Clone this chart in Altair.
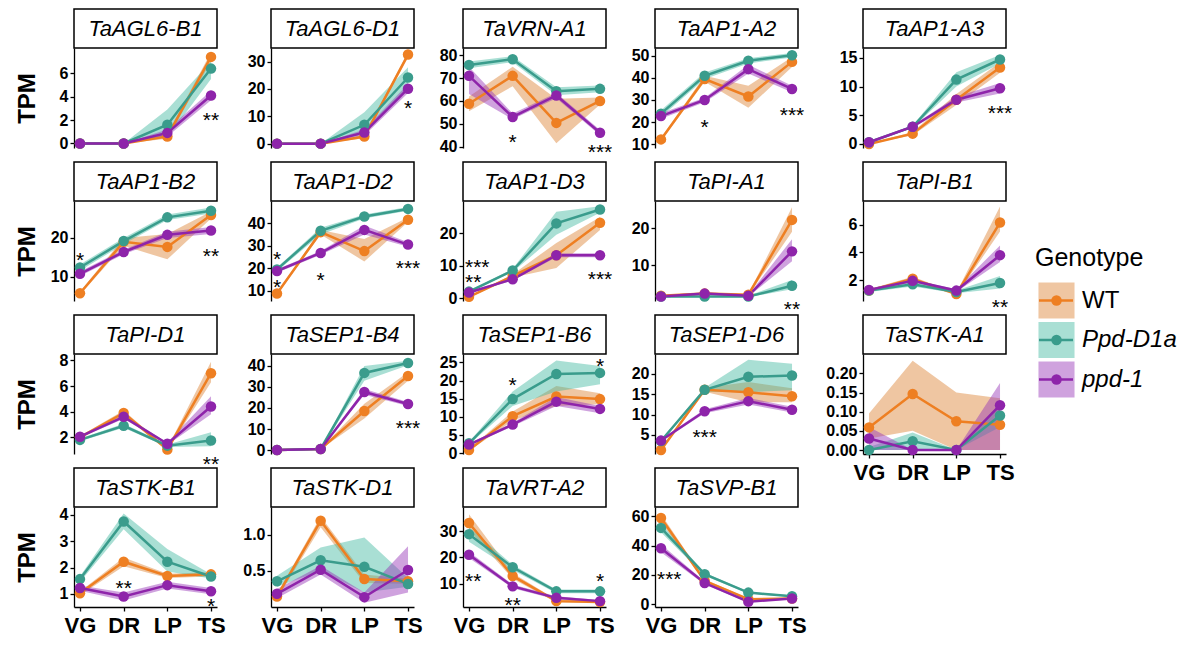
import json
import altair as alt
import pandas as pd

STAGES = ["VG", "DR", "LP", "TS"]
GENOTYPES = ["WT", "Ppd-D1a", "ppd-1"]
GENES = ["TaAGL6-B1", "TaAGL6-D1", "TaVRN-A1", "TaAP1-A2", "TaAP1-A3",
         "TaAP1-B2", "TaAP1-D2", "TaAP1-D3", "TaPI-A1", "TaPI-B1",
         "TaPI-D1", "TaSEP1-B4", "TaSEP1-B6", "TaSEP1-D6", "TaSTK-A1",
         "TaSTK-B1", "TaSTK-D1", "TaVRT-A2", "TaSVP-B1"]

# mean TPM, rows = genes (same order as GENES), columns = stages
WT_MEAN = [
    [0, 0, 0.6, 7.4], [0, 0, 2.6, 32.6], [58.8, 71.0, 50.4, 60.0],
    [12.1, 39.5, 31.6, 47.3], [0.0, 1.8, 7.7, 13.3], [5.8, 19.0, 17.7, 25.9],
    [8.8, 36.0, 27.6, 41.5], [0.4, 6.8, 13.2, 23.2], [1.7, 2.3, 2.0, 22.2],
    [1.25, 2.1, 1.0, 6.15], [2.0, 3.9, 1.05, 7.0], [0, 0.5, 18.6, 35.2],
    [0.9, 10.2, 15.6, 14.9], [1.3, 16.1, 15.5, 14.5], [0.059, 0.146, 0.075, 0.066],
    [1.02, 2.22, 1.68, 1.74], [0.146, 1.19, 0.386, 0.355], [33.2, 12.9, 3.25, 2.9],
    [58.7, 16.0, 3.5, 4.0]]
WT_LO = [
    [0, 0, 0.4, 7.0], [0, 0, 2.0, 31.5], [55.5, 66.5, 41.5, 58.5],
    [11.3, 38.3, 26.5, 45.0], [0, 1.5, 6.8, 12.4], [5.4, 18.0, 14.5, 25.0],
    [8.2, 35.0, 23.0, 40.5], [0.2, 6.3, 9.3, 21.0], [1.5, 2.0, 1.8, 19.0],
    [1.15, 1.95, 0.9, 5.5], [1.9, 3.7, 0.95, 6.3], [0, 0.4, 15.0, 33.0],
    [0.6, 9.0, 13.0, 13.5], [1.1, 15.6, 13.0, 13.0], [0.03, 0.05, 0.0, 0.0],
    [0.95, 2.05, 1.6, 1.66], [0.11, 1.1, 0.33, 0.32], [30.5, 11.8, 2.7, 2.4],
    [56.0, 15.0, 3.0, 3.5]]
WT_HI = [
    [0, 0, 0.8, 7.8], [0, 0, 3.2, 33.5], [62.0, 75.0, 61.0, 61.5],
    [12.9, 41.0, 36.5, 49.5], [0.1, 2.1, 8.7, 14.2], [6.2, 20.0, 21.0, 26.8],
    [9.4, 37.0, 33.0, 42.5], [0.6, 7.3, 17.0, 25.0], [1.9, 2.6, 2.2, 25.6],
    [1.35, 2.25, 1.1, 7.3], [2.1, 4.1, 1.15, 7.9], [0, 0.6, 22.0, 37.0],
    [1.2, 11.5, 18.5, 16.5], [1.5, 16.6, 18.0, 16.5], [0.095, 0.233, 0.15, 0.135],
    [1.09, 2.38, 1.76, 1.82], [0.18, 1.25, 0.45, 0.39], [36.5, 14.0, 3.8, 3.4],
    [61.5, 17.0, 4.0, 4.5]]
PPD_MEAN = [
    [0, 0, 1.6, 6.4], [0, 0, 6.9, 24.2], [75.8, 78.3, 64.3, 65.3],
    [23.8, 41.0, 47.8, 50.3], [0.3, 3.0, 11.2, 14.7], [12.4, 19.2, 25.3, 27.0],
    [19.5, 36.6, 42.9, 46.3], [2.0, 8.5, 23.0, 27.3], [1.5, 1.5, 1.5, 4.4],
    [1.25, 1.7, 1.15, 1.8], [1.8, 2.9, 1.35, 1.75], [0, 0.5, 36.7, 41.4],
    [2.75, 14.9, 21.8, 22.1], [3.5, 16.1, 19.3, 19.6], [0.0, 0.023, 0.0, 0.090],
    [1.56, 3.75, 2.22, 1.66], [0.355, 0.645, 0.555, 0.318], [28.9, 16.2, 7.0, 7.0],
    [52.0, 20.5, 8.0, 5.5]]
PPD_LO = [
    [0, 0, 0.5, 5.5], [0, 0, 3.5, 20.5], [74.3, 77.0, 62.5, 63.8],
    [22.3, 39.5, 46.6, 49.3], [0.2, 2.8, 10.0, 14.0], [11.6, 18.4, 24.6, 26.3],
    [18.7, 35.0, 42.0, 45.5], [1.7, 8.0, 19.5, 26.3], [1.3, 1.3, 1.3, 3.5],
    [1.15, 1.55, 1.05, 1.4], [1.7, 2.75, 1.25, 1.3], [0, 0.4, 33.0, 40.3],
    [2.4, 13.0, 17.0, 19.0], [3.2, 15.6, 15.5, 16.0], [0.0, 0.0, 0.0, 0.06],
    [1.45, 3.45, 1.85, 1.58], [0.28, 0.5, 0.2, 0.28], [26.0, 15.2, 6.3, 6.3],
    [49.0, 19.5, 7.3, 5.0]]
PPD_HI = [
    [0, 0, 2.9, 7.0], [0, 0, 11.5, 28.0], [77.3, 79.6, 66.0, 66.8],
    [25.3, 42.5, 49.0, 51.3], [0.4, 3.2, 12.5, 15.5], [13.2, 20.0, 26.0, 27.8],
    [20.3, 38.0, 43.8, 47.1], [2.3, 9.0, 26.6, 28.3], [1.7, 1.7, 1.7, 6.0],
    [1.35, 1.85, 1.25, 2.3], [1.9, 3.05, 1.45, 2.4], [0, 0.6, 40.0, 42.5],
    [3.1, 17.0, 25.5, 24.0], [3.8, 16.6, 23.5, 22.5], [0.008, 0.046, 0.0, 0.12],
    [1.67, 4.05, 2.7, 1.74], [0.43, 0.82, 0.96, 0.4], [31.5, 17.2, 7.7, 7.7],
    [55.0, 21.5, 8.7, 6.0]]
NULL_MEAN = [
    [0, 0, 0.9, 4.1], [0, 0, 4.1, 20.1], [71.0, 53.0, 62.4, 46.1],
    [22.7, 30.0, 44.0, 35.0], [0.3, 3.0, 7.7, 9.7], [10.8, 16.4, 20.8, 21.9],
    [18.8, 26.8, 37.0, 30.5], [1.7, 5.8, 13.2, 13.2], [1.5, 2.3, 1.7, 13.7],
    [1.3, 1.95, 1.25, 3.8], [2.05, 3.6, 1.5, 4.4], [0, 0.5, 27.6, 21.9],
    [2.4, 7.9, 14.2, 12.2], [3.6, 10.8, 13.3, 11.2], [0.030, 0.0, 0.0, 0.117],
    [1.22, 0.9, 1.33, 1.1], [0.182, 0.514, 0.136, 0.51], [21.0, 8.9, 4.5, 3.25],
    [38.2, 14.5, 1.8, 4.0]]
NULL_LO = [
    [0, 0, 0.6, 3.7], [0, 0, 3.0, 18.5], [63.0, 52.0, 61.2, 45.0],
    [21.5, 29.0, 42.0, 33.5], [0.2, 2.8, 7.2, 8.8], [10.2, 15.8, 20.0, 21.0],
    [18.0, 26.0, 35.0, 29.5], [1.4, 5.4, 12.6, 12.6], [1.3, 2.0, 1.5, 11.0],
    [1.2, 1.85, 1.15, 3.3], [1.95, 3.45, 1.4, 3.8], [0, 0.4, 26.3, 21.0],
    [2.1, 7.4, 13.0, 11.0], [3.3, 10.3, 12.5, 10.5], [0.0, 0.0, 0.0, 0.0],
    [1.12, 0.75, 1.2, 0.98], [0.12, 0.45, 0.06, 0.2], [19.8, 8.2, 3.9, 2.8],
    [35.5, 13.5, 1.3, 3.5]]
NULL_HI = [
    [0, 0, 1.2, 4.5], [0, 0, 5.2, 21.8], [75.0, 54.5, 63.5, 47.3],
    [24.0, 31.0, 46.0, 36.5], [0.4, 3.2, 8.2, 10.6], [11.4, 17.0, 21.6, 22.8],
    [19.6, 27.6, 39.0, 31.5], [2.0, 6.2, 13.8, 13.8], [1.7, 2.6, 1.9, 17.0],
    [1.4, 2.05, 1.35, 4.5], [2.15, 3.75, 1.6, 5.2], [0, 0.6, 29.0, 22.8],
    [2.7, 8.4, 15.5, 13.0], [3.9, 11.3, 14.1, 11.9], [0.06, 0.0, 0.0, 0.175],
    [1.32, 1.05, 1.46, 1.22], [0.25, 0.57, 0.2, 0.84], [22.2, 9.6, 5.1, 3.7],
    [40.9, 15.5, 2.3, 4.5]]

# y-axis extent and tick labels per panel
Y_DOMAIN = [
    [-0.39, 8.16], [-1.6, 35.0], [39.4, 83.2], [8.2, 53.6], [-0.7, 16.7],
    [3.8, 29.5], [5.5, 49.8], [-0.9, 29.9], [0.3, 27.3], [0.5, 7.7],
    [0.7, 8.5], [-1.9, 45.7], [-0.2, 27.3], [0.3, 24.9], [-0.0104, 0.2505],
    [0.5, 4.3], [0.0, 1.38], [1.0, 39.3], [-1.8, 66.2]]
Y_TICKS = [
    [0, 2, 4, 6], [0, 10, 20, 30], [40, 50, 60, 70, 80], [10, 20, 30, 40, 50], [0, 5, 10, 15],
    [10, 20], [10, 20, 30, 40], [0, 10, 20], [10, 20], [2, 4, 6],
    [2, 4, 6, 8], [0, 10, 20, 30, 40], [0, 5, 10, 15, 20, 25], [5, 10, 15, 20],
    [0, 0.05, 0.10, 0.15, 0.20],
    [1, 2, 3, 4], [0.5, 1.0], [10, 20, 30], [0, 20, 40, 60]]
Y_FORMAT = [".0f"] * 14 + [".2f"] + [".0f", ".1f", ".0f", ".0f"]

# significance marks: (gene, stage, TPM position, label)
SIG = [
    ("TaAGL6-B1", "TS", 2.4, "**"), ("TaAGL6-D1", "TS", 14.8, "*"),
    ("TaVRN-A1", "DR", 44.2, "*"), ("TaVRN-A1", "TS", 40.0, "***"),
    ("TaAP1-A2", "DR", 19.8, "*"), ("TaAP1-A2", "TS", 25.3, "***"),
    ("TaAP1-A3", "TS", 6.3, "***"),
    ("TaAP1-B2", "VG", 15.7, "*"), ("TaAP1-B2", "TS", 16.6, "**"),
    ("TaAP1-D2", "VG", 26.1, "*"), ("TaAP1-D2", "VG", 13.7, "*"),
    ("TaAP1-D2", "DR", 17.0, "*"), ("TaAP1-D2", "TS", 22.5, "***"),
    ("TaAP1-D3", "VG", 11.2, "***"), ("TaAP1-D3", "VG", 6.6, "**"),
    ("TaAP1-D3", "TS", 7.3, "***"),
    ("TaPI-A1", "TS", -0.5, "**"), ("TaPI-B1", "TS", 0.45, "**"),
    ("TaPI-D1", "TS", 0.31, "**"), ("TaSEP1-B4", "TS", 12.9, "***"),
    ("TaSEP1-B6", "DR", 20.1, "*"), ("TaSEP1-B6", "TS", 25.3, "*"),
    ("TaSEP1-D6", "DR", 5.8, "***"),
    ("TaSTK-B1", "DR", 1.43, "**"), ("TaSTK-B1", "TS", 0.74, "*"),
    ("TaVRT-A2", "VG", 12.9, "**"), ("TaVRT-A2", "DR", 3.7, "**"),
    ("TaVRT-A2", "TS", 12.9, "*"),
    ("TaSVP-B1", "VG", 20.4, "***"),
]

LINE_COLORS = ["#EE7F22", "#3A9C8C", "#8E24AA"]
RIBBON_COLORS = ["#DC8030", "#40B8A0", "#9530B5"]
FONT = "Liberation Sans"

# ---------------------------------------------------------------- data table
SERIES = {"WT": (WT_MEAN, WT_LO, WT_HI),
          "Ppd-D1a": (PPD_MEAN, PPD_LO, PPD_HI),
          "ppd-1": (NULL_MEAN, NULL_LO, NULL_HI)}
rows = []
for gi, gene in enumerate(GENES):
    for geno in GENOTYPES:
        m, lo, hi = SERIES[geno]
        for si, st in enumerate(STAGES):
            rows.append({"gene": gene, "genotype": geno, "si": si, "stage": st,
                         "mean": m[gi][si], "lo": lo[gi][si], "hi": hi[gi][si]})
df = pd.DataFrame(rows)

W, H = 143, 100
STRIP = 39
XPAD = 0.137
COL_EXTENT = [30, 42, 37, 37, 53]

color_scale = alt.Scale(domain=GENOTYPES, range=LINE_COLORS)
fill_scale = alt.Scale(domain=GENOTYPES, range=RIBBON_COLORS)
label_expr = json.dumps(STAGES) + "[datum.value]"


def panel(gi, col, show_x, show_title):
    gene = GENES[gi]
    d = df[df.gene == gene]
    if show_x:
        xaxis = alt.Axis(values=list(range(len(STAGES))), labelExpr=label_expr,
                         title=None, labelFontSize=22, tickSize=4, labelPadding=4)
    else:
        xaxis = None
    xs = alt.Scale(domain=[-XPAD, len(STAGES) - 1 + XPAD], nice=False, zero=False)
    ys = alt.Scale(domain=Y_DOMAIN[gi], nice=False, zero=False)
    yaxis = alt.Axis(values=Y_TICKS[gi], format=Y_FORMAT[gi],
                     minExtent=COL_EXTENT[col], maxExtent=COL_EXTENT[col])
    ytitle = "TPM" if show_title else None

    def X():
        return alt.X("si:Q", scale=xs, axis=xaxis, title=None)

    def Y(f):
        return alt.Y(f, scale=ys, axis=yaxis, title=ytitle)

    base = alt.Chart(d)
    ribbon = base.mark_area(opacity=0.45).encode(
        x=X(), y=Y("lo:Q"), y2="hi:Q",
        fill=alt.Fill("genotype:N", scale=fill_scale, legend=None))
    line = base.mark_line(strokeWidth=2.5).encode(
        x=X(), y=Y("mean:Q"),
        color=alt.Color("genotype:N", scale=color_scale, legend=None))
    pts = base.mark_circle(size=110, opacity=1).encode(
        x=X(), y=Y("mean:Q"),
        color=alt.Color("genotype:N", scale=color_scale, legend=None))
    layers = [ribbon, line, pts]

    sig = [{"si": STAGES.index(s[1]), "y": s[2], "lab": s[3]} for s in SIG if s[0] == gene]
    if sig:
        sd = pd.DataFrame(sig)
        first = sd[sd.si == 0]
        rest = sd[sd.si != 0]
        if len(first):
            layers.append(alt.Chart(first).mark_text(
                align="left", baseline="middle", dx=-4, dy=6, fontSize=21,
                font=FONT, color="black").encode(x=X(), y=Y("y:Q"), text="lab:N"))
        if len(rest):
            layers.append(alt.Chart(rest).mark_text(
                align="center", baseline="middle", dy=6, fontSize=21,
                font=FONT, color="black").encode(x=X(), y=Y("y:Q"), text="lab:N"))

    strip_data = alt.Data(values=[{"gene": gene}])
    box = alt.Chart(strip_data).mark_rect(fill="white", stroke="black", strokeWidth=1.5).encode(
        x=alt.value(0), x2=alt.value(W), y=alt.value(-STRIP), y2=alt.value(0))
    lab = alt.Chart(strip_data).mark_text(
        font=FONT, fontSize=22, fontStyle="italic", color="black",
        baseline="middle", align="center").encode(
        x=alt.value(W / 2), y=alt.value(-STRIP / 2), text="gene:N")
    layers += [box, lab]
    return alt.layer(*layers).properties(width=W, height=H)


NCOL = 5
n = len(GENES)
columns = []
for c in range(NCOL):
    idx = [r * NCOL + c for r in range(4) if r * NCOL + c < n]
    panels = []
    for k, gi in enumerate(idx):
        last = (k == len(idx) - 1)
        panels.append(panel(gi, c, show_x=last, show_title=(c == 0)))
    columns.append(alt.vconcat(*panels, spacing=53, bounds="flush"))

# ---------------------------------------------------------------- legend
leg_df = pd.DataFrame({"genotype": GENOTYPES})
LY = alt.Y("genotype:N",
           scale=alt.Scale(type="point", domain=GENOTYPES, range=[252.5, 331.5], padding=0),
           axis=None)
lbase = alt.Chart(leg_df)
keys = lbase.mark_square(size=1300, opacity=0.45).encode(
    x=alt.value(38.5), y=LY, fill=alt.Fill("genotype:N", scale=fill_scale, legend=None))
krule = lbase.mark_rule(strokeWidth=2.5).encode(
    x=alt.value(21), x2=alt.value(55), y=LY,
    color=alt.Color("genotype:N", scale=color_scale, legend=None))
kdot = lbase.mark_circle(size=110, opacity=1).encode(
    x=alt.value(38.5), y=LY, color=alt.Color("genotype:N", scale=color_scale, legend=None))
klab1 = lbase.transform_filter(alt.datum.genotype == GENOTYPES[0]).mark_text(
    align="left", baseline="middle", fontSize=24, font=FONT, color="black").encode(
    x=alt.value(64), y=LY, text="genotype:N")
klab2 = lbase.transform_filter(alt.datum.genotype != GENOTYPES[0]).mark_text(
    align="left", baseline="middle", fontSize=24, font=FONT, fontStyle="italic",
    color="black").encode(x=alt.value(64), y=LY, text="genotype:N")
ktitle = alt.Chart(alt.Data(values=[{"t": "Genotype"}])).mark_text(
    align="left", baseline="alphabetic", fontSize=25, font=FONT, color="black").encode(
    x=alt.value(17), y=alt.value(218), text="t:N")
legend = alt.layer(keys, krule, kdot, klab1, klab2, ktitle).properties(width=150, height=400)

chart = alt.hconcat(*columns, legend, spacing=3).properties(
    padding={"left": 7, "top": 0, "right": 0, "bottom": 0}
).configure(font=FONT).configure_view(stroke=None).configure_axis(
    labelFont=FONT, labelFontSize=16, labelFontWeight="bold", labelColor="black",
    titleFont=FONT, titleFontSize=24, titleFontWeight="bold", titleColor="black",
    domainColor="black", domainWidth=1.3, tickColor="black", tickWidth=1.3, tickSize=4,
    labelPadding=2, titlePadding=5, grid=False, labelFlush=False, labelOverlap=False)

chart.save("out.html", embed_options={"renderer": "svg", "actions": False})
